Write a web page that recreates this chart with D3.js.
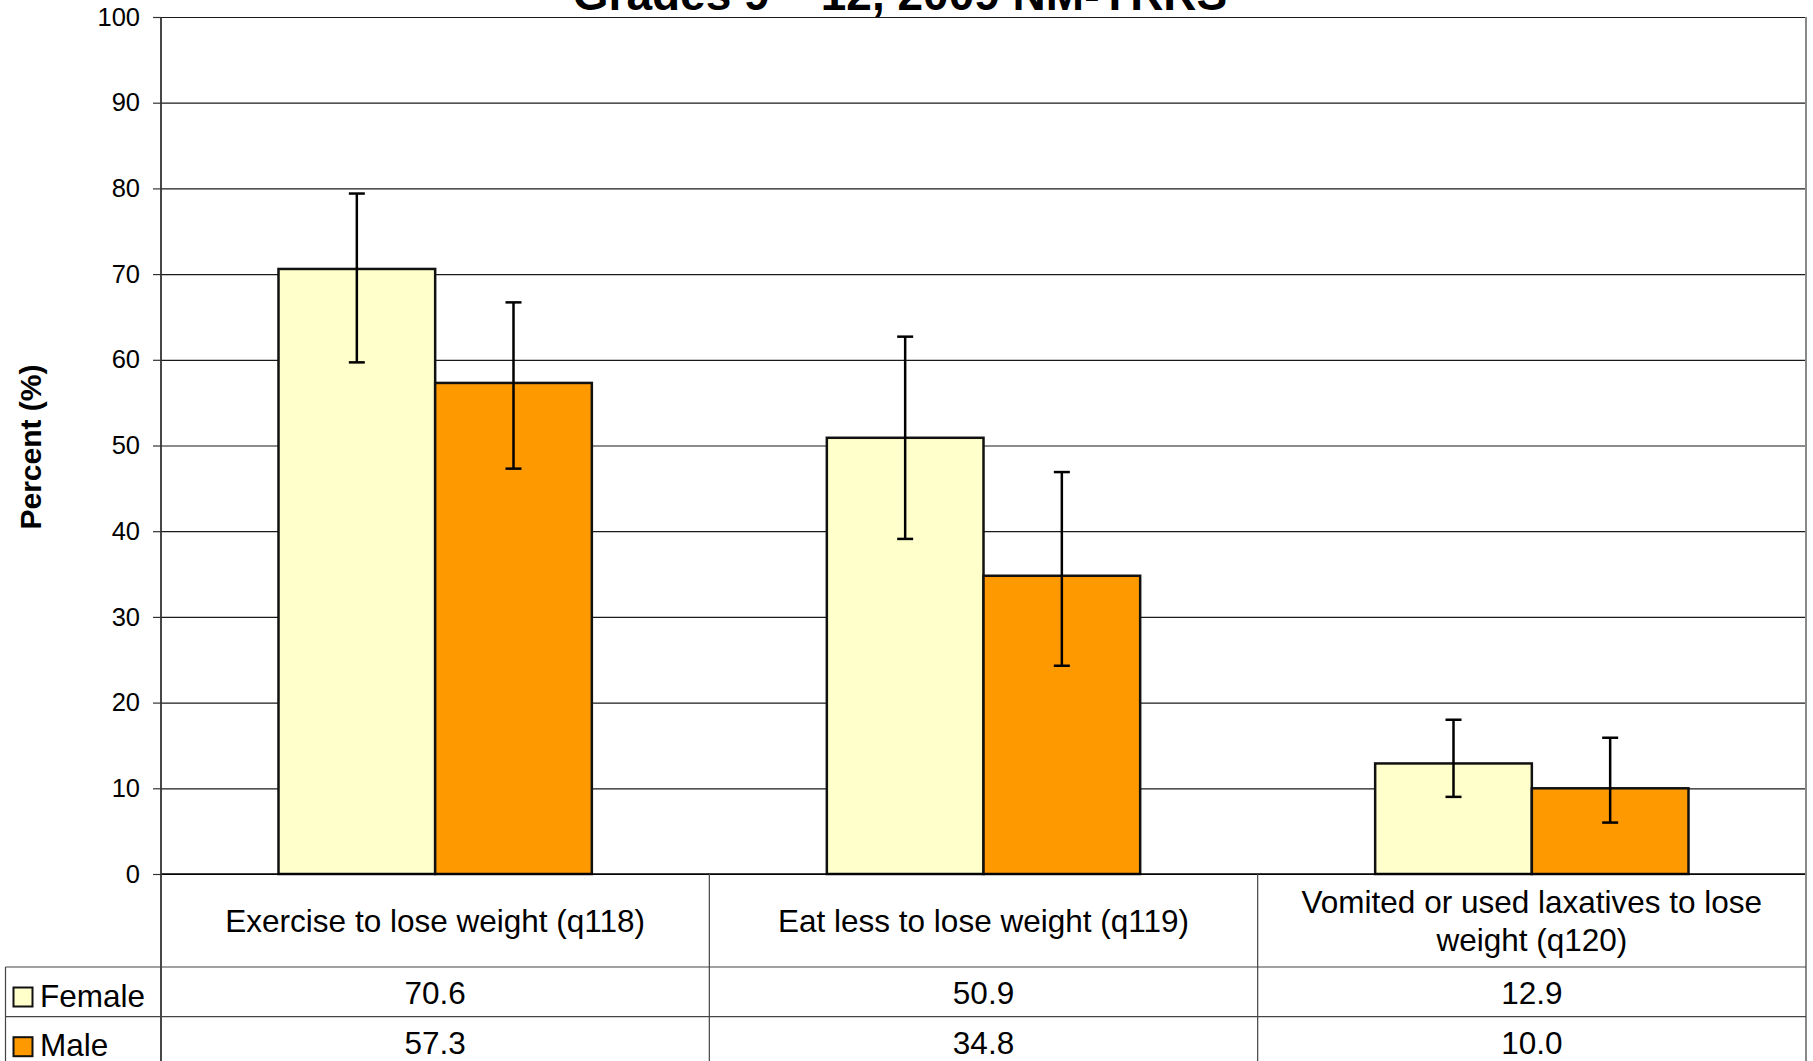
<!DOCTYPE html>
<html>
<head>
<meta charset="utf-8">
<script src="https://cdn.jsdelivr.net/npm/d3@7"></script>
<style>
  body { margin: 0; background: #fff; overflow: hidden; }
  svg { display: block; font-family: "Liberation Sans", Arial, sans-serif; }
</style>
</head>
<body>
<svg id="chart" width="1813" height="1061"></svg>
<script>
// values
const categories = ["Exercise to lose weight (q118)", "Eat less to lose weight (q119)", "Vomited or used laxatives to lose weight (q120)"];
const categoryLines = [["Exercise to lose weight (q118)"], ["Eat less to lose weight (q119)"], ["Vomited or used laxatives to lose", "weight (q120)"]];
const seriesNames = ["Female", "Male"];
const seriesColors = ["#FFFFCC", "#FF9900"];
const female = [70.6, 50.9, 12.9];
const male = [57.3, 34.8, 10.0];
const femaleLow = [59.7, 39.1, 9.0];
const femaleHigh = [79.4, 62.7, 18.0];
const maleLow = [47.3, 24.3, 6.0];
const maleHigh = [66.7, 46.9, 15.9];
const yTicks = [0, 10, 20, 30, 40, 50, 60, 70, 80, 90, 100];
const title = "Grades 9 \u2013 12, 2009 NM-YRRS";
const yLabel = "Percent (%)";

var svg = d3.select("#chart");

var plot = {left: 161, right: 1806, top: 17, bottom: 874};
var table = {left: 5.5, catBottom: 967, rowH: 49.7};

var x = d3.scaleBand().domain(categories).range([plot.left, plot.right]).padding(0);
var x1 = d3.scaleBand().domain(seriesNames).range([0, x.bandwidth()])
    .paddingInner(0).paddingOuter(0.75);
var y = d3.scaleLinear().domain([0, 100]).range([plot.bottom, plot.top]);

var series = [
  {name: "Female", values: female, low: femaleLow, high: femaleHigh, color: seriesColors[0]},
  {name: "Male", values: male, low: maleLow, high: maleHigh, color: seriesColors[1]}
];

// title (cut off at top, like the source)
svg.append("text")
    .attr("x", 900)
    .attr("y", 10)
    .attr("text-anchor", "middle")
    .attr("font-weight", "bold")
    .attr("font-size", 46)
    .text(title);

// gridlines
svg.append("g")
    .attr("class", "grid")
    .attr("transform", "translate(" + plot.left + ",0)")
    .call(d3.axisLeft(y).tickValues(yTicks).tickSize(-(plot.right - plot.left)).tickFormat(""))
    .call(g => g.select(".domain").remove())
    .call(g => g.selectAll("line").attr("stroke", "#1a1a1a").attr("stroke-width", 1.2));

// y axis
var yAxis = svg.append("g")
    .attr("transform", "translate(" + plot.left + ",0)")
    .call(d3.axisLeft(y).tickValues(yTicks).tickSize(8).tickPadding(13).tickSizeOuter(0));
yAxis.select(".domain").remove();
yAxis.selectAll("line").attr("stroke", "#333").attr("stroke-width", 1.2);
yAxis.selectAll("text")
    .attr("font-size", 25.5)
    .attr("font-family", "Liberation Sans, Arial, sans-serif")
    .attr("fill", "#000");

// y label
svg.append("text")
    .attr("transform", "translate(41,447) rotate(-90)")
    .attr("text-anchor", "middle")
    .attr("font-weight", "bold")
    .attr("font-size", 30)
    .text(yLabel);

// bars
var groups = svg.append("g").selectAll("g")
    .data(series)
    .enter().append("g");

groups.selectAll("rect")
    .data(s => s.values.map((v, i) => ({s: s, v: v, i: i})))
    .enter().append("rect")
    .attr("x", d => x(categories[d.i]) + x1(d.s.name))
    .attr("y", d => y(d.v))
    .attr("width", x1.bandwidth())
    .attr("height", d => y(0) - y(d.v))
    .attr("fill", d => d.s.color)
    .attr("stroke", "#111")
    .attr("stroke-width", 2.5);

// error bars
var errs = [];
series.forEach(s => s.values.forEach((v, i) => errs.push({s: s, i: i, lo: s.low[i], hi: s.high[i]})));
var cx = d => x(categories[d.i]) + x1(d.s.name) + x1.bandwidth() / 2;
var eg = svg.append("g").attr("stroke", "#000").attr("stroke-width", 2.5);
eg.selectAll(".stem").data(errs).enter().append("line")
    .attr("x1", cx).attr("x2", cx)
    .attr("y1", d => y(d.lo)).attr("y2", d => y(d.hi));
eg.selectAll(".capHi").data(errs).enter().append("line")
    .attr("x1", d => cx(d) - 8).attr("x2", d => cx(d) + 8)
    .attr("y1", d => y(d.hi)).attr("y2", d => y(d.hi));
eg.selectAll(".capLo").data(errs).enter().append("line")
    .attr("x1", d => cx(d) - 8).attr("x2", d => cx(d) + 8)
    .attr("y1", d => y(d.lo)).attr("y2", d => y(d.lo));

// zero line and plot frame
svg.append("line")
    .attr("x1", plot.left).attr("x2", plot.right)
    .attr("y1", y(0)).attr("y2", y(0))
    .attr("stroke", "#000").attr("stroke-width", 1.5);
svg.append("line")
    .attr("x1", plot.left).attr("x2", plot.left)
    .attr("y1", plot.top).attr("y2", 1061)
    .attr("stroke", "#333").attr("stroke-width", 1.8);
svg.append("line")
    .attr("x1", plot.right).attr("x2", plot.right)
    .attr("y1", plot.top).attr("y2", 1061)
    .attr("stroke", "#888").attr("stroke-width", 2);

// data table
var tg = svg.append("g").attr("stroke", "#444").attr("stroke-width", 1.2);
categories.slice(1).forEach(c => {
  tg.append("line").attr("x1", x(c)).attr("x2", x(c))
    .attr("y1", plot.bottom).attr("y2", 1061);
});
[0, 1].forEach(r => {
  var yy = table.catBottom + r * table.rowH;
  tg.append("line").attr("x1", table.left).attr("x2", plot.right)
    .attr("y1", yy).attr("y2", yy);
});
tg.append("line").attr("x1", table.left).attr("x2", table.left)
    .attr("y1", table.catBottom).attr("y2", 1061);

// category labels
categories.forEach((c, i) => {
  var lines = categoryLines[i];
  var t = svg.append("text")
      .attr("text-anchor", "middle")
      .attr("font-size", 31.5);
  lines.forEach((ln, k) => {
    t.append("tspan")
      .attr("x", x(c) + x.bandwidth() / 2)
      .attr("y", 931.5 + (k - (lines.length - 1) / 2) * 38)
      .text(ln);
  });
});

// legend rows + values
series.forEach((s, r) => {
  var base = table.catBottom + r * table.rowH;
  svg.append("rect")
      .attr("x", 13.5).attr("y", base + 20.5)
      .attr("width", 19).attr("height", 19)
      .attr("fill", s.color).attr("stroke", "#111").attr("stroke-width", 2);
  svg.append("text")
      .attr("x", 40)
      .attr("y", base + 39.5)
      .attr("font-size", 31.5)
      .text(s.name);
  svg.append("g").selectAll("text")
      .data(s.values)
      .enter().append("text")
      .attr("x", (v, i) => x(categories[i]) + x.bandwidth() / 2)
      .attr("y", base + 37)
      .attr("text-anchor", "middle")
      .attr("font-size", 31.5)
      .text(v => v.toFixed(1));
});
</script>
</body>
</html>
